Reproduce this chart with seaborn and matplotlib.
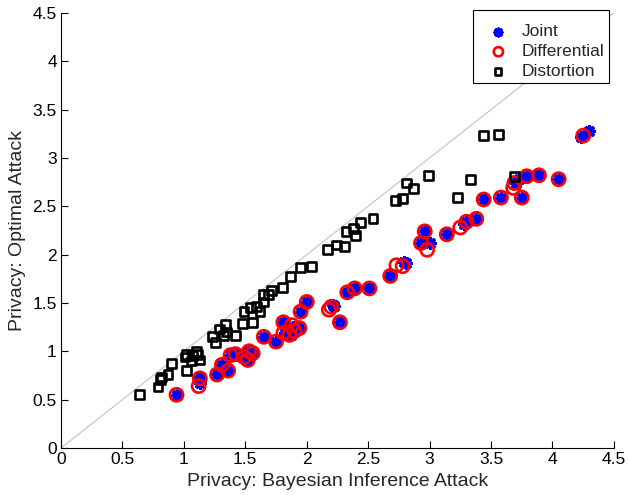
import pandas as pd
import matplotlib
matplotlib.use("Agg")
import matplotlib.pyplot as plt
import seaborn as sns

# valores
joint_x = [0.94, 1.13, 1.13, 1.27, 1.31, 1.36, 1.38, 1.42, 1.49, 1.52,
           1.53, 1.56, 1.65, 1.75, 1.81, 1.82, 1.87, 1.89, 1.90, 1.94,
           1.95, 2.00, 2.21, 2.22, 2.27, 2.33, 2.39, 2.51, 2.68, 2.79,
           2.81, 2.93, 2.96, 3.00, 3.14, 3.28, 3.30, 3.38, 3.44, 3.58,
           3.70, 3.73, 3.75, 3.79, 3.89, 4.05, 4.23, 4.30]
joint_y = [0.55, 0.67, 0.73, 0.76, 0.86, 0.80, 0.96, 0.97, 0.94, 0.91,
           1.00, 0.98, 1.15, 1.10, 1.30, 1.19, 1.17, 1.25, 1.21, 1.24,
           1.41, 1.51, 1.48, 1.47, 1.30, 1.61, 1.65, 1.65, 1.78, 1.92,
           1.91, 2.12, 2.24, 2.12, 2.21, 2.32, 2.34, 2.37, 2.57, 2.59,
           2.74, 2.78, 2.59, 2.81, 2.82, 2.78, 3.22, 3.28]

diff_x = [0.94, 1.12, 1.13, 1.27, 1.31, 1.36, 1.38, 1.42, 1.49, 1.52,
          1.53, 1.56, 1.65, 1.75, 1.81, 1.81, 1.86, 1.88, 1.90, 1.94,
          1.95, 2.00, 2.18, 2.20, 2.27, 2.33, 2.39, 2.51, 2.68, 2.73,
          2.78, 2.93, 2.96, 2.98, 3.14, 3.25, 3.30, 3.38, 3.44, 3.58,
          3.68, 3.69, 3.75, 3.79, 3.89, 4.05, 4.25]
diff_y = [0.55, 0.64, 0.72, 0.76, 0.86, 0.80, 0.96, 0.97, 0.94, 0.91,
          1.00, 0.98, 1.15, 1.10, 1.30, 1.19, 1.17, 1.27, 1.21, 1.24,
          1.41, 1.51, 1.43, 1.46, 1.30, 1.61, 1.65, 1.65, 1.78, 1.89,
          1.88, 2.12, 2.24, 2.05, 2.21, 2.28, 2.34, 2.37, 2.57, 2.59,
          2.69, 2.74, 2.59, 2.81, 2.82, 2.78, 3.23]

dist_x = [0.64, 0.79, 0.81, 0.82, 0.87, 0.90, 1.02, 1.01, 1.02, 1.06,
          1.07, 1.10, 1.11, 1.13, 1.23, 1.26, 1.29, 1.32, 1.34, 1.35,
          1.42, 1.48, 1.49, 1.56, 1.54, 1.59, 1.62, 1.65, 1.65, 1.69,
          1.71, 1.80, 1.87, 1.95, 2.04, 2.17, 2.24, 2.31, 2.32, 2.38,
          2.40, 2.44, 2.54, 2.72, 2.78, 2.81, 2.87, 2.99, 3.23, 3.33,
          3.44, 3.56, 3.69]
dist_y = [0.55, 0.63, 0.71, 0.735, 0.76, 0.87, 0.80, 0.94, 0.97, 0.90,
          0.96, 1.00, 0.97, 0.91, 1.15, 1.09, 1.23, 1.16, 1.28, 1.20,
          1.16, 1.29, 1.41, 1.30, 1.45, 1.46, 1.41, 1.51, 1.59, 1.59,
          1.63, 1.66, 1.77, 1.87, 1.88, 2.05, 2.10, 2.08, 2.24, 2.27,
          2.20, 2.33, 2.37, 2.56, 2.58, 2.74, 2.68, 2.82, 2.59, 2.78,
          3.23, 3.24, 2.81]

ticks = [0, 0.5, 1, 1.5, 2, 2.5, 3, 3.5, 4, 4.5]
tick_labels = ["0", "0.5", "1", "1.5", "2", "2.5", "3", "3.5", "4", "4.5"]

sns.set_style("white")
plt.rcParams["font.family"] = ["Liberation Sans", "DejaVu Sans"]

fig = plt.figure(figsize=(6.29, 4.95), dpi=100)
ax = fig.add_axes([0.097, 0.095, 0.879, 0.879])

# diagonal de referencia
ax.axline((0, 0), slope=1, color="#c8c8c8", lw=0.9, zorder=1)

df_j = pd.DataFrame({"x": joint_x, "y": joint_y})
df_d = pd.DataFrame({"x": diff_x, "y": diff_y})
df_s = pd.DataFrame({"x": dist_x, "y": dist_y})

sns.scatterplot(x="x", y="y", data=df_j, ax=ax, marker=(8, 2, 0), s=45,
                color="blue", edgecolor="blue", linewidth=2.6,
                label="Joint", zorder=3)
sns.scatterplot(x="x", y="y", data=df_d, ax=ax, marker="o", s=90,
                color="none", edgecolor="red", linewidth=1.9,
                label="Differential", zorder=4)
sns.scatterplot(x="x", y="y", data=df_s, ax=ax, marker="s", s=40,
                color="none", edgecolor="black", linewidth=1.9,
                label="Distortion", zorder=4)

ax.set_xlim(0, 4.5)
ax.set_ylim(0, 4.5)
ax.set_xticks(ticks)
ax.set_xticklabels(tick_labels)
ax.set_yticks(ticks)
ax.set_yticklabels(tick_labels)
ax.tick_params(direction="in", length=5, width=0.8, labelsize=12.5,
               bottom=True, left=True, colors="black", pad=3)
ax.set_xlabel("Privacy: Bayesian Inference Attack", fontsize=14, labelpad=4)
ax.set_ylabel("Privacy: Optimal Attack", fontsize=14, labelpad=5)

for s in ["top", "right"]:
    ax.spines[s].set_visible(False)
for s in ["left", "bottom"]:
    ax.spines[s].set_color("black")
    ax.spines[s].set_linewidth(0.8)

# titulo vacio para dejar mas aire arriba, como en matlab
leg = ax.legend(loc="upper right", fontsize=12.5, frameon=True, fancybox=False,
                edgecolor="black", framealpha=1, borderpad=0.25,
                handletextpad=0.15, labelspacing=0.27, handlelength=2.4,
                title=" ", title_fontsize=4, markerscale=0.7,
                borderaxespad=0, bbox_to_anchor=(0.991, 1.006))
leg.get_frame().set_linewidth(0.8)

plt.savefig("out.png", dpi=100)
